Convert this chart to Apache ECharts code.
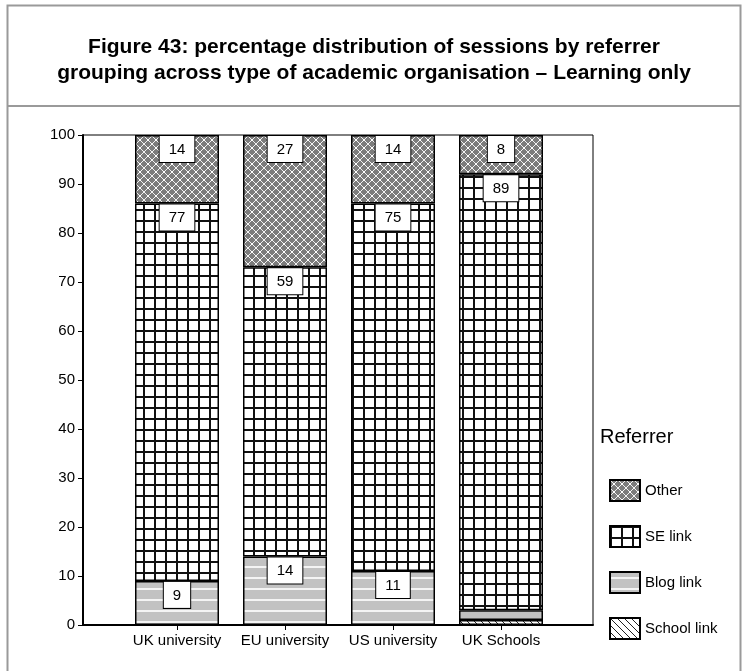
<!DOCTYPE html>
<html>
<head>
<meta charset="utf-8">
<script src="https://cdn.jsdelivr.net/npm/echarts@6/dist/echarts.min.js"></script>
<style>
  html, body { margin: 0; padding: 0; background: #fff; }
  #chart { width: 743px; height: 671px; }
</style>
</head>
<body>
<div id="chart"></div>
<script>
// Organisation types along the x axis
const categories = ['UK university', 'EU university', 'US university', 'UK Schools'];
// Percentage of sessions per referrer group (stacked bottom to top)
const schoolLink = [0, 0, 0, 1];
const blogLink = [9, 14, 11, 2];
const seLink = [77, 59, 75, 89];
const other = [14, 27, 14, 8];
// Value axis tick labels
const yTicks = [0, 10, 20, 30, 40, 50, 60, 70, 80, 90, 100];

const FONT = "'Liberation Sans', Arial, sans-serif";

function makePattern(w, h, draw) {
  const c = document.createElement('canvas');
  c.width = w; c.height = h;
  const ctx = c.getContext('2d');
  draw(ctx, w, h);
  return { image: c, repeat: 'repeat' };
}

// Grey lattice of diamonds
const otherFill = makePattern(8, 8, (ctx, w, h) => {
  ctx.fillStyle = '#7c7c7c';
  ctx.fillRect(0, 0, w, h);
  ctx.strokeStyle = '#f2f2f2';
  ctx.lineWidth = 1;
  ctx.beginPath();
  ctx.moveTo(0, 0); ctx.lineTo(w, h);
  ctx.moveTo(w, 0); ctx.lineTo(0, h);
  ctx.stroke();
  ctx.fillStyle = '#ffffff';
  ctx.fillRect(3, 3, 2, 2);
});
// Square grid
const seFill = makePattern(11, 11, (ctx, w, h) => {
  ctx.fillStyle = '#ffffff';
  ctx.fillRect(0, 0, w, h);
  ctx.fillStyle = '#111111';
  ctx.fillRect(0, 0, 2, h);
  ctx.fillRect(0, 0, w, 2);
});
// Light grey with white horizontal stripes
const blogFill = makePattern(11, 11, (ctx, w, h) => {
  ctx.fillStyle = '#c2c2c2';
  ctx.fillRect(0, 0, w, h);
  ctx.fillStyle = '#f4f4f4';
  ctx.fillRect(0, 5, w, 2);
});
// Diagonal hatching
const schoolFill = makePattern(7, 7, (ctx, w, h) => {
  ctx.fillStyle = '#ffffff';
  ctx.fillRect(0, 0, w, h);
  ctx.strokeStyle = '#222222';
  ctx.lineWidth = 1;
  ctx.beginPath();
  ctx.moveTo(-1, -1); ctx.lineTo(w + 1, h + 1);
  ctx.stroke();
});

const boxLabel = {
  show: true,
  position: 'insideTop',
  distance: 1,
  color: '#000',
  fontFamily: FONT,
  fontSize: 15,
  backgroundColor: '#fff',
  borderColor: '#000',
  borderWidth: 1,
  padding: [6, 9, 5, 9]
};

function series(name, values, fill, labelMin) {
  return {
    name: name,
    type: 'bar',
    stack: 'total',
    xAxisIndex: 1,
    yAxisIndex: 1,
    barWidth: 84,
    // thin segments carry no value box
    data: values.map(v => ({ value: v, label: { show: labelMin !== null && v >= labelMin } })),
    itemStyle: { color: fill, borderColor: '#000', borderWidth: 1.5 },
    label: boxLabel,
    emphasis: { disabled: true },
    animation: false
  };
}

const chart = echarts.init(document.getElementById('chart'), null, { renderer: 'canvas' });

chart.setOption({
  animation: false,
  backgroundColor: '#fff',
  graphic: [
    { type: 'rect', shape: { x: 7.5, y: 5.5, width: 733, height: 700 },
      style: { fill: null, stroke: '#9a9a9a', lineWidth: 2 }, silent: true },
    { type: 'line', shape: { x1: 7, y1: 106, x2: 741, y2: 106 },
      style: { stroke: '#9a9a9a', lineWidth: 2 }, silent: true },
    { type: 'text', x: 374, y: 34, silent: true,
      style: {
        text: 'Figure 43: percentage distribution of sessions by referrer\ngrouping across type of academic organisation \u2013 Learning only',
        align: 'center', verticalAlign: 'top',
        fontFamily: FONT, fontSize: 21, fontWeight: 'bold', lineHeight: 26, fill: '#000'
      } },
    { type: 'text', left: 600, top: 427,
      style: { text: 'Referrer', fontFamily: FONT, fontSize: 20, fill: '#000' }, silent: true }
  ],
  legend: {
    orient: 'vertical',
    left: 604,
    top: 474,
    itemWidth: 30,
    itemHeight: 21,
    itemGap: 23,
    icon: 'rect',
    data: ['Other', 'SE link', 'Blog link', 'School link'],
    textStyle: { fontFamily: FONT, fontSize: 15, color: '#000' },
    selectedMode: false
  },
  grid: [
    // framed plot area carrying the percentage axis
    { left: 83, top: 135, width: 510, height: 490,
      show: true, borderColor: '#000', borderWidth: 1, backgroundColor: 'transparent' },
    // inner band holding the four category columns
    { left: 123, top: 135, width: 432, height: 490 }
  ],
  xAxis: [
    { gridIndex: 0, type: 'value', min: 0, max: 1,
      splitLine: { show: false }, axisTick: { show: false }, axisLabel: { show: false },
      axisLine: { show: true, lineStyle: { color: '#000', width: 2 } } },
    { gridIndex: 1, type: 'category', data: categories, boundaryGap: true,
      axisLine: { show: false },
      axisTick: { show: true, alignWithLabel: true, length: 5, lineStyle: { color: '#000', width: 1 } },
      axisLabel: { fontFamily: FONT, fontSize: 15, color: '#000', margin: 8, interval: 0 } }
  ],
  yAxis: [
    { gridIndex: 0, type: 'value',
      min: yTicks[0], max: yTicks[yTicks.length - 1], interval: yTicks[1] - yTicks[0],
      splitLine: { show: false },
      axisLine: { show: true, lineStyle: { color: '#000', width: 2 } },
      axisTick: { show: true, length: 5, lineStyle: { color: '#000', width: 1 } },
      axisLabel: { fontFamily: FONT, fontSize: 15, color: '#000', margin: 8 } },
    { gridIndex: 1, type: 'value',
      min: yTicks[0], max: yTicks[yTicks.length - 1], interval: yTicks[1] - yTicks[0],
      show: false }
  ],
  series: [
    series('School link', schoolLink, schoolFill, null),
    series('Blog link', blogLink, blogFill, 5),
    series('SE link', seLink, seFill, 5),
    series('Other', other, otherFill, 5)
  ]
});
</script>
</body>
</html>
